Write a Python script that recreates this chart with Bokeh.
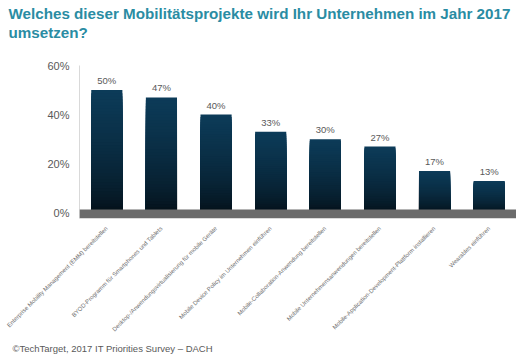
import math
from bokeh.plotting import figure
from bokeh.models import (FactorRange, Range1d, FixedTicker, PrintfTickFormatter,
                          BoxAnnotation, Title, ColumnDataSource)
from bokeh.embed import file_html
from bokeh.resources import INLINE

title_lines = ["Welches dieser Mobilitätsprojekte wird Ihr Unternehmen im Jahr 2017",
               "umsetzen?"]
categories = [
    "Enterprise Mobility Management (EMM) bereitstellen",
    "BYOD-Programm für Smartphones und Tablets",
    "Desktop-/Anwendungsvirtualisierung für mobile Geräte",
    "Mobile Device Policy im Unternehmen einführen",
    "Mobile-Collaboration-Anwendung bereitstellen",
    "Mobile Unternehmensanwendungen bereitstellen",
    "Mobile-Application-Development-Plattform installieren",
    "Wearables einführen",
]
values = [50, 47, 40, 33, 30, 27, 17, 13]
y_ticks = [0, 20, 40, 60]
footer = "©TechTarget, 2017 IT Priorities Survey – DACH"

FONT = "Liberation Sans"
TOP_COLOR = (12, 59, 88)
BOTTOM_COLOR = (3, 9, 14)
TITLE_COLOR = "#2a8ca3"

p = figure(width=516, height=357, output_backend="svg", toolbar_location=None,
           title=None,
           x_range=FactorRange(*categories, range_padding=0, factor_padding=0),
           y_range=Range1d(-2.3, 60),
           min_border_left=79, min_border_right=0, min_border_top=65,
           min_border_bottom=139)
p.outline_line_color = None
p.xgrid.grid_line_color = None
p.ygrid.grid_line_color = None
p.background_fill_color = "white"
p.border_fill_color = "white"

# gradient bars: nested bars from the base, each shorter one darker
N = 40
xs, tops, colors = [], [], []
for k in range(N):
    frac = 1 - k / N
    w = frac ** 0.55
    col = tuple(int(round(BOTTOM_COLOR[j] + (TOP_COLOR[j] - BOTTOM_COLOR[j]) * w)) for j in range(3))
    for c, v in zip(categories, values):
        xs.append(c)
        tops.append(v * frac)
        colors.append("#%02x%02x%02x" % col)
src = ColumnDataSource(dict(x=xs, top=tops, color=colors))
p.vbar(x="x", bottom=0, top="top", width=0.57, source=src,
       fill_color="color", line_color=None)

# value labels
lsrc = ColumnDataSource(dict(x=categories, y=values, t=["%d%%" % v for v in values]))
p.text(x="x", y="y", text="t", source=lsrc, text_align="center",
       text_baseline="bottom", y_offset=-4, text_font_size="9.5px",
       text_color="#595959", text_font={"value": FONT})

# floor band
p.add_layout(BoxAnnotation(bottom=-2.3, top=1.4, fill_color="#6b6b6b",
                           fill_alpha=1, line_color=None, level="overlay"))

# axes
p.yaxis.ticker = FixedTicker(ticks=y_ticks)
p.yaxis.formatter = PrintfTickFormatter(format="%d%%")
p.yaxis.axis_line_color = "#d9d9d9"
p.yaxis.major_tick_line_color = None
p.yaxis.minor_tick_line_color = None
p.yaxis.major_tick_out = 0
p.yaxis.major_tick_in = 0
p.yaxis.major_label_standoff = 10
p.yaxis.major_label_text_font_size = "11px"
p.yaxis.major_label_text_color = "#595959"
p.yaxis.major_label_text_font = FONT

p.xaxis.axis_line_color = None
p.xaxis.major_tick_line_color = None
p.xaxis.minor_tick_line_color = None
p.xaxis.major_tick_out = 0
p.xaxis.major_tick_in = 0
p.xaxis.major_label_standoff = 9
p.xaxis.major_label_orientation = math.pi / 4
p.xaxis.major_label_text_font_size = "6px"
p.xaxis.major_label_text_color = "#707070"
p.xaxis.major_label_text_font = FONT

# title: spacer (nearest the frame), then line 2, then line 1 on top
p.add_layout(Title(text=" ", standoff=22, text_font_size="1px",
                   text_color="white"), "above")
p.add_layout(Title(text=title_lines[1], align="left", offset=-71, standoff=0,
                   text_font=FONT, text_font_size="15.2px", text_font_style="bold",
                   text_color=TITLE_COLOR, text_line_height=1.0), "above")
p.add_layout(Title(text=title_lines[0], align="left", offset=-71, standoff=0,
                   text_font=FONT, text_font_size="15.2px", text_font_style="bold",
                   text_color=TITLE_COLOR, text_line_height=1.0), "above")
p.add_layout(Title(text=footer, align="left", offset=-67, standoff=6,
                   text_font=FONT, text_font_size="9.5px", text_font_style="normal",
                   text_color="#595959"), "below")

open("out.html", "w").write(file_html(p, INLINE))
